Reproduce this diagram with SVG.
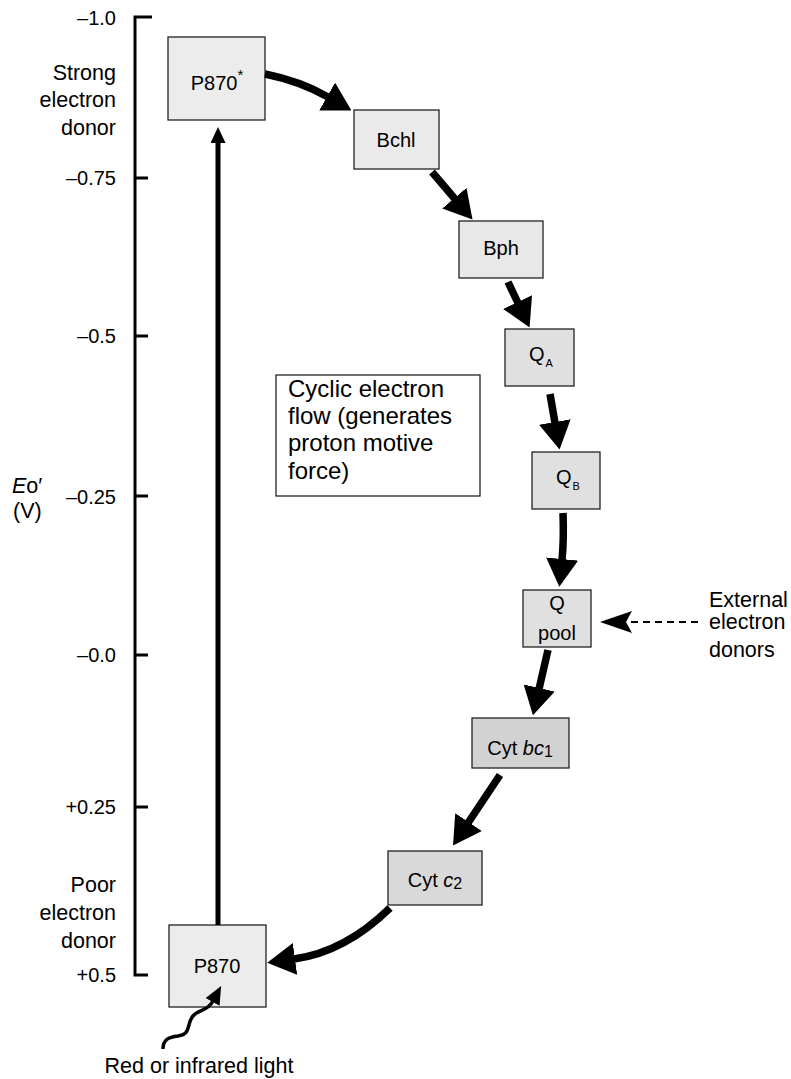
<svg xmlns="http://www.w3.org/2000/svg" width="791" height="1079" viewBox="0 0 791 1079">
  <style>
    text { font-family: "Liberation Sans", Arial, sans-serif; font-size: 20px; fill: #000; }
    .r { text-anchor: end; }
    .m { text-anchor: middle; }
    .lbl { font-size: 21.5px; }
    .note { font-size: 24px; }
    .box { stroke: #222; stroke-width: 1.3; }
    .axis { fill: none; stroke: #000; stroke-width: 3; }
    .flow { fill: none; stroke: #000; stroke-width: 7.5; }
    .thin { fill: none; stroke: #000; stroke-width: 5; }
  </style>
  <defs>
    <marker id="bigHead" markerUnits="userSpaceOnUse" viewBox="0 0 28 32" markerWidth="28" markerHeight="32" refX="1" refY="16" orient="auto">
      <path d="M0,0 L28,16 L0,32 z" fill="#000"/>
    </marker>
    <marker id="smallHead" markerUnits="userSpaceOnUse" viewBox="0 0 16 15" markerWidth="16" markerHeight="15" refX="1" refY="7.5" orient="auto">
      <path d="M0,0 L16,7.5 L0,15 z" fill="#000"/>
    </marker>
    <marker id="waveHead" markerUnits="userSpaceOnUse" viewBox="0 0 18 16" markerWidth="18" markerHeight="16" refX="1" refY="8" orient="auto">
      <path d="M0,0 L18,8 L0,16 z" fill="#000"/>
    </marker>
  </defs>

  <!-- redox potential axis -->
  <g id="axis">
    <path class="axis" d="M152,17 H135 V975 H148"/>
    <path class="axis" d="M135,178 H148 M135,336 H148 M135,496 H148 M135,655 H148 M135,807 H148"/>
    <text class="r" x="116" y="25">–1.0</text>
    <text class="r" x="116" y="185">–0.75</text>
    <text class="r" x="116" y="343">–0.5</text>
    <text class="r" x="116" y="504">–0.25</text>
    <text class="r" x="116" y="662">–0.0</text>
    <text class="r" x="116" y="814">+0.25</text>
    <text class="r" x="116" y="982">+0.5</text>
    <text class="r lbl" x="116" y="80">Strong</text>
    <text class="r lbl" x="116" y="107">electron</text>
    <text class="r lbl" x="116" y="135">donor</text>
    <text class="r lbl" x="116" y="892">Poor</text>
    <text class="r lbl" x="116" y="920">electron</text>
    <text class="r lbl" x="116" y="948">donor</text>
    <text class="lbl" x="12" y="493"><tspan font-style="italic">E</tspan>o′</text>
    <text class="lbl" x="13" y="518">(V)</text>
  </g>

  <!-- electron carriers -->
  <g id="p870-excited">
    <rect class="box" x="168" y="37" width="97" height="83" fill="#ececec"/>
    <text class="m" x="217" y="90">P870<tspan font-size="15" dy="-10">*</tspan></text>
  </g>
  <g id="bchl">
    <rect class="box" x="354" y="110" width="85" height="59" fill="#eaeaea"/>
    <text class="m" x="396" y="147">Bchl</text>
  </g>
  <g id="bph">
    <rect class="box" x="459" y="221" width="84" height="57" fill="#e8e8e8"/>
    <text class="m" x="501" y="255">Bph</text>
  </g>
  <g id="qa">
    <rect class="box" x="505" y="329" width="69" height="57" fill="#e0e0e0"/>
    <text x="529" y="361">Q<tspan font-size="11" dx="1" dy="6">A</tspan></text>
  </g>
  <g id="qb">
    <rect class="box" x="532" y="452" width="68" height="57" fill="#e0e0e0"/>
    <text x="556" y="484">Q<tspan font-size="11" dx="1" dy="6">B</tspan></text>
  </g>
  <g id="q-pool">
    <rect class="box" x="523" y="590" width="68" height="57" fill="#e0e0e0"/>
    <text class="m" x="557" y="610">Q</text>
    <text class="m" x="557" y="640">pool</text>
  </g>
  <g id="cyt-bc1">
    <rect class="box" x="472" y="718" width="97" height="50" fill="#d2d2d2"/>
    <text class="m" x="520" y="755">Cyt <tspan font-style="italic">bc</tspan><tspan font-size="16" dy="2">1</tspan></text>
  </g>
  <g id="cyt-c2">
    <rect class="box" x="388" y="851" width="94" height="54" fill="#d9d9d9"/>
    <text class="m" x="435" y="887">Cyt <tspan font-style="italic">c</tspan><tspan font-size="16" dy="2">2</tspan></text>
  </g>
  <g id="p870">
    <rect class="box" x="169" y="925" width="97" height="82" fill="#ececec"/>
    <text class="m" x="217" y="973">P870</text>
  </g>

  <g id="cyclic-note">
    <rect x="276" y="375" width="204" height="121" fill="#fff" stroke="#222" stroke-width="1.3"/>
    <text class="note" x="288" y="397">Cyclic electron</text>
    <text class="note" x="288" y="424">flow (generates</text>
    <text class="note" x="288" y="451">proton motive</text>
    <text class="note" x="288" y="479">force)</text>
  </g>

  <g id="external-donors">
    <text class="lbl" x="709" y="607">External</text>
    <text class="lbl" x="709" y="629">electron</text>
    <text class="lbl" x="709" y="657">donors</text>
  </g>

  <g id="light-label">
    <text class="m lbl" x="199" y="1073">Red or infrared light</text>
  </g>

  <!-- connectors -->
  <g id="connectors">
    <path class="flow" d="M265,74 Q300,81 328,97" marker-end="url(#bigHead)"/>
    <path class="flow" d="M432,172 L455,199" marker-end="url(#bigHead)"/>
    <path class="flow" d="M508,282 L518,303" marker-end="url(#bigHead)"/>
    <path class="flow" d="M550,394 L555,423" marker-end="url(#bigHead)"/>
    <path class="flow" d="M563,513 Q564,540 562,560" marker-end="url(#bigHead)"/>
    <path class="flow" d="M548,650 L539,689" marker-end="url(#bigHead)"/>
    <path class="flow" d="M500,775 L468,823" marker-end="url(#bigHead)"/>
    <path class="flow" d="M390,908 Q345,952 294,959" marker-end="url(#bigHead)"/>
    <path class="thin" d="M218,925 V142" marker-end="url(#smallHead)"/>
    <path fill="none" stroke="#000" stroke-width="3.5" d="M163,1049 C163,1040 168,1037 178,1036 C192,1034 186,1024 193,1016 C199,1009 207,1012 213,1001" marker-end="url(#waveHead)"/>
    <path fill="none" stroke="#000" stroke-width="2" stroke-dasharray="7,5" d="M698,622 H628"/>
    <path d="M600,622 L632,611 L626,622 L632,633 z" fill="#000"/>
  </g>
</svg>
